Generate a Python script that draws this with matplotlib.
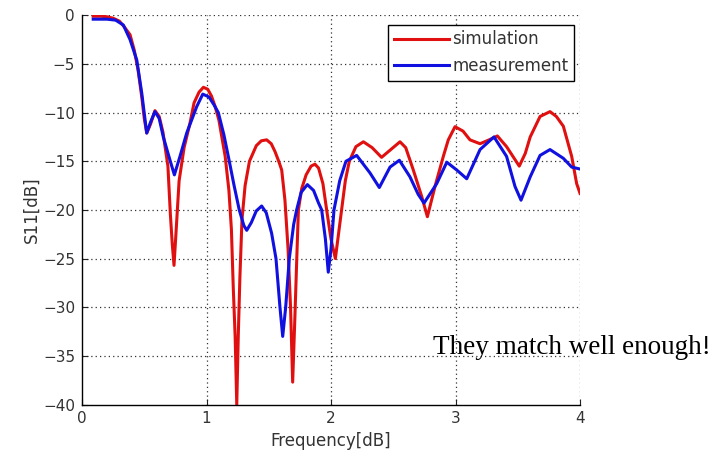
import matplotlib
matplotlib.use("Agg")
import matplotlib.pyplot as plt

# Simulated S11 response
sim_freq = [0.09, 0.15, 0.20, 0.25, 0.30, 0.34, 0.386, 0.42, 0.45, 0.48, 0.50, 0.52,
            0.55, 0.586, 0.62, 0.65, 0.69, 0.71, 0.725, 0.739, 0.752, 0.766, 0.78,
            0.82, 0.867, 0.90, 0.94, 0.975, 1.01, 1.04, 1.07, 1.10, 1.15, 1.18, 1.20,
            1.215, 1.23, 1.243, 1.255, 1.268, 1.285, 1.31, 1.345, 1.40, 1.44, 1.483,
            1.52, 1.55, 1.58, 1.604, 1.63, 1.655, 1.675, 1.692, 1.71, 1.725, 1.738,
            1.765, 1.80, 1.84, 1.871, 1.90, 1.935, 1.965, 2.00, 2.035, 2.06, 2.085,
            2.115, 2.147, 2.20, 2.26, 2.33, 2.406, 2.48, 2.554, 2.60, 2.661, 2.728,
            2.774, 2.835, 2.902, 2.942, 2.996, 3.06, 3.116, 3.197, 3.27, 3.336, 3.41,
            3.512, 3.56, 3.60, 3.679, 3.759, 3.81, 3.866, 3.933, 3.973, 4.00]
sim_db = [-0.1, -0.1, -0.15, -0.3, -0.6, -1.2, -2.0, -3.6, -5.6, -8.4, -10.6, -12.1,
          -11.2, -9.8, -10.4, -12.0, -15.5, -20.5, -23.5, -25.7, -23.0, -20.0, -17.0,
          -13.6, -11.1, -9.0, -7.9, -7.4, -7.6, -8.3, -9.4, -10.8, -14.5, -18.0, -22.0,
          -28.0, -33.0, -40.0, -33.0, -27.0, -21.0, -17.5, -15.0, -13.4, -12.9, -12.8,
          -13.2, -14.0, -15.0, -15.9, -19.0, -24.0, -30.0, -37.7, -31.0, -25.0, -20.0,
          -17.8, -16.4, -15.5, -15.3, -15.7, -17.3, -20.0, -23.0, -25.0, -22.5, -20.0,
          -17.0, -15.0, -13.5, -13.0, -13.6, -14.6, -13.8, -13.0, -13.6, -15.9, -18.6,
          -20.7, -17.6, -14.5, -12.8, -11.45, -11.9, -12.8, -13.2, -12.8, -12.4, -13.5,
          -15.5, -14.2, -12.5, -10.4, -9.9, -10.4, -11.4, -14.5, -17.3, -18.3]

# Measured S11 response
meas_freq = [0.09, 0.15, 0.20, 0.27, 0.332, 0.386, 0.44, 0.48, 0.51, 0.52, 0.55,
             0.586, 0.62, 0.653, 0.707, 0.742, 0.787, 0.841, 0.921, 0.97, 1.02,
             1.06, 1.095, 1.14, 1.183, 1.22, 1.263, 1.30, 1.323, 1.36, 1.40, 1.443,
             1.48, 1.523, 1.558, 1.59, 1.612, 1.636, 1.665, 1.70, 1.724, 1.76, 1.81,
             1.86, 1.90, 1.925, 1.955, 1.978, 2.00, 2.024, 2.07, 2.12, 2.206, 2.313,
             2.388, 2.474, 2.549, 2.634, 2.70, 2.747, 2.849, 2.93, 3.01, 3.09, 3.197,
             3.309, 3.41, 3.478, 3.526, 3.60, 3.679, 3.759, 3.866, 3.933, 4.00]
meas_db = [-0.4, -0.4, -0.4, -0.5, -1.0, -2.5, -4.6, -8.0, -11.1, -12.1, -11.0,
           -9.9, -10.6, -12.5, -14.9, -16.4, -14.5, -12.1, -9.4, -8.1, -8.4,
           -9.2, -10.0, -12.3, -15.0, -17.4, -20.0, -21.6, -22.1, -21.3, -20.1, -19.6,
           -20.3, -22.4, -25.0, -30.0, -33.0, -30.0, -25.0, -21.5, -20.0, -18.2, -17.4,
           -18.0, -19.3, -20.0, -23.0, -26.4, -24.0, -20.0, -17.0, -15.0, -14.4, -16.2,
           -17.7, -15.6, -14.9, -16.6, -18.4, -19.3, -17.3, -15.1, -15.9, -16.8, -13.8,
           -12.5, -14.5, -17.6, -19.0, -16.6, -14.4, -13.8, -14.7, -15.6, -15.8]

series_labels = ["simulation", "measurement"]
x_ticks = [0, 1, 2, 3, 4]
y_ticks = [0, -5, -10, -15, -20, -25, -30, -35, -40]

plt.rcParams["font.family"] = ["DejaVu Sans"]

fig = plt.figure(figsize=(7.13, 4.59), dpi=100)
ax = fig.add_axes([0.115, 0.1187, 0.6985, 0.848])

ax.plot(sim_freq, sim_db, color="#e01010", lw=2.2, label=series_labels[0],
        solid_joinstyle="round")
ax.plot(meas_freq, meas_db, color="#1010e0", lw=2.2, label=series_labels[1],
        solid_joinstyle="round")

ax.set_xlim(0, 4)
ax.set_ylim(-40, 0)
ax.set_xticks(x_ticks)
ax.set_yticks(y_ticks)
ax.set_yticklabels([str(v).replace("-", "\u2212") for v in y_ticks])

for side in ("top", "right"):
    ax.spines[side].set_visible(False)
for side in ("left", "bottom"):
    ax.spines[side].set_linewidth(1.0)
ax.tick_params(direction="in", length=4, labelsize=11, colors="#222222",
               labelcolor="#333333", pad=5)

# dotted grid, including the lines at x=4 and y=0
for xv in x_ticks[1:]:
    ax.axvline(xv, color="#333333", lw=0.9, linestyle=(0, (1, 2.5)), zorder=0.5)
for yv in y_ticks[:-1]:
    ax.axhline(yv, color="#333333", lw=0.9, linestyle=(0, (1, 2.5)), zorder=0.5)

ax.set_xlabel("Frequency[dB]", fontsize=12, color="#333333", labelpad=4)
ax.set_ylabel("S11[dB]", fontsize=12, color="#333333", labelpad=2)

leg = ax.legend(loc="upper right", bbox_to_anchor=(0.9886, 0.976), borderaxespad=0,
                fontsize=12, handlelength=3.3, handletextpad=0.2, labelspacing=0.5,
                borderpad=0.35, fancybox=False, framealpha=1, edgecolor="black")
leg.get_frame().set_linewidth(1.0)
for t in leg.get_texts():
    t.set_color("#333333")

fig.text(433 / 713, 1 - 354 / 459, "They match well enough!", fontsize=19.5,
         family="Liberation Serif", ha="left", va="baseline", color="black")

fig.savefig("out.png", dpi=100)
